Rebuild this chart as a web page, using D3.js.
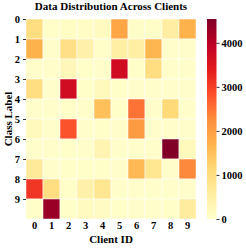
<!DOCTYPE html>
<html>
<head>
<meta charset="utf-8">
<script src="https://cdn.jsdelivr.net/npm/d3@7"></script>
<style>
  html, body { margin: 0; padding: 0; background: #fff; }
  svg text { font-family: "Liberation Serif", "Times New Roman", serif; font-weight: bold; }
</style>
</head>
<body>
<svg id="chart" width="246" height="248"></svg>
<script>
// data: rows = class label, columns = client id
const clientIds = ['0', '1', '2', '3', '4', '5', '6', '7', '8', '9'];
const classLabels = ['0', '1', '2', '3', '4', '5', '6', '7', '8', '9'];
const counts = [
  [1000,   50,  100,   80,  150, 1900,   60,   70,  550, 1700],
  [1700,   30,  900,  450,   50,  500,  500, 1650,   20,   20],
  [  30,   20,  250,   40,   30, 3700,   40, 1000,   30,   20],
  [1000,   30, 3700,   40,  200,   40,   30,   30,   20,   20],
  [  30,   20,   40,   30, 1500,   40, 2500,   30, 1100,   20],
  [ 200,   20, 2800,   30,   40,   30, 2050,   30,   20,   20],
  [  30,   30,   40,   30,  350,   20,   30,   20, 4540,  200],
  [ 650,   30,   40,   50,   50,   20, 1600,  750,   20, 2300],
  [3100, 1000,   40,  450,  750,   30,   30,   30,   30,   30],
  [  40, 4300,   40,  150,  130,   40,   30,   30,   40,  600]
];
const cbarTicks = [0, 1000, 2000, 3000, 4000];
const vmax = 4540;

// matplotlib YlOrRd
const ylOrRd = ['#ffffcc', '#ffeda0', '#fed976', '#feb24c', '#fd8d3c',
                '#fc4e2a', '#e31a1c', '#bd0026', '#800026'];

const svg = d3.select('#chart');
const grid = { left: 26, right: 196, top: 19, bottom: 219 };

const color = d3.scaleLinear()
  .domain(ylOrRd.map((c, i) => vmax * i / (ylOrRd.length - 1)))
  .range(ylOrRd)
  .interpolate(d3.interpolateRgb)
  .clamp(true);

const x = d3.scaleBand().domain(clientIds).range([grid.left, grid.right]);
const y = d3.scaleBand().domain(classLabels).range([grid.top, grid.bottom]);

// cells
const cells = [];
counts.forEach((row, r) => row.forEach((v, c) => cells.push({ r: classLabels[r], c: clientIds[c], v })));
svg.append('g')
  .selectAll('rect')
  .data(cells)
  .enter()
  .append('rect')
  .attr('x', d => x(d.c))
  .attr('y', d => y(d.r))
  .attr('width', x.bandwidth())
  .attr('height', y.bandwidth())
  .attr('fill', d => color(d.v))
  .attr('stroke', '#fff')
  .attr('stroke-width', 0.5);

// x axis, labels centred on columns, no tick marks
const xAxis = svg.append('g')
  .attr('transform', `translate(0,${grid.bottom})`)
  .call(d3.axisBottom(x).tickSize(0).tickPadding(3));
xAxis.select('.domain').remove();

// y axis, ticks sit on row top edges (as in the source figure)
const yEdge = d3.scaleLinear().domain([0, classLabels.length]).range([grid.top, grid.bottom]);
const yAxis = svg.append('g')
  .attr('transform', `translate(${grid.left},0)`)
  .call(d3.axisLeft(yEdge)
          .tickValues(d3.range(classLabels.length))
          .tickFormat(i => classLabels[i])
          .tickSize(3).tickPadding(3));
yAxis.select('.domain').remove();

svg.selectAll('.tick text').attr('font-size', 10.5).attr('fill', '#000');
svg.selectAll('.tick line').attr('stroke', '#000').attr('stroke-width', 0.8);

// titles
svg.append('text')
  .attr('x', (grid.left + grid.right) / 2)
  .attr('y', 10)
  .attr('text-anchor', 'middle')
  .attr('font-size', 11)
  .text('Data Distribution Across Clients');

svg.append('text')
  .attr('x', (grid.left + grid.right) / 2)
  .attr('y', 243)
  .attr('text-anchor', 'middle')
  .attr('font-size', 11)
  .text('Client ID');

svg.append('text')
  .attr('transform', `translate(12,${(grid.top + grid.bottom) / 2}) rotate(-90)`)
  .attr('text-anchor', 'middle')
  .attr('font-size', 11)
  .text('Class Label');

// colorbar
const cb = { x: 207, w: 9.5 };
const cbScale = d3.scaleLinear().domain([0, vmax]).range([grid.bottom, grid.top]);
const grad = svg.append('defs').append('linearGradient')
  .attr('id', 'cbGrad')
  .attr('x1', 0).attr('y1', 1).attr('x2', 0).attr('y2', 0);
grad.selectAll('stop')
  .data(ylOrRd)
  .enter()
  .append('stop')
  .attr('offset', (c, i) => i / (ylOrRd.length - 1))
  .attr('stop-color', c => c);

svg.append('rect')
  .attr('x', cb.x)
  .attr('y', grid.top)
  .attr('width', cb.w)
  .attr('height', grid.bottom - grid.top)
  .attr('fill', 'url(#cbGrad)');

const cbAxis = svg.append('g')
  .attr('transform', `translate(${cb.x + cb.w},0)`)
  .call(d3.axisRight(cbScale)
          .tickValues(cbarTicks)
          .tickFormat(d3.format('d'))
          .tickSize(3).tickPadding(2));
cbAxis.select('.domain').remove();
cbAxis.selectAll('text').attr('font-size', 10.5).attr('fill', '#000');
cbAxis.selectAll('line').attr('stroke', '#000').attr('stroke-width', 0.8);
</script>
</body>
</html>
